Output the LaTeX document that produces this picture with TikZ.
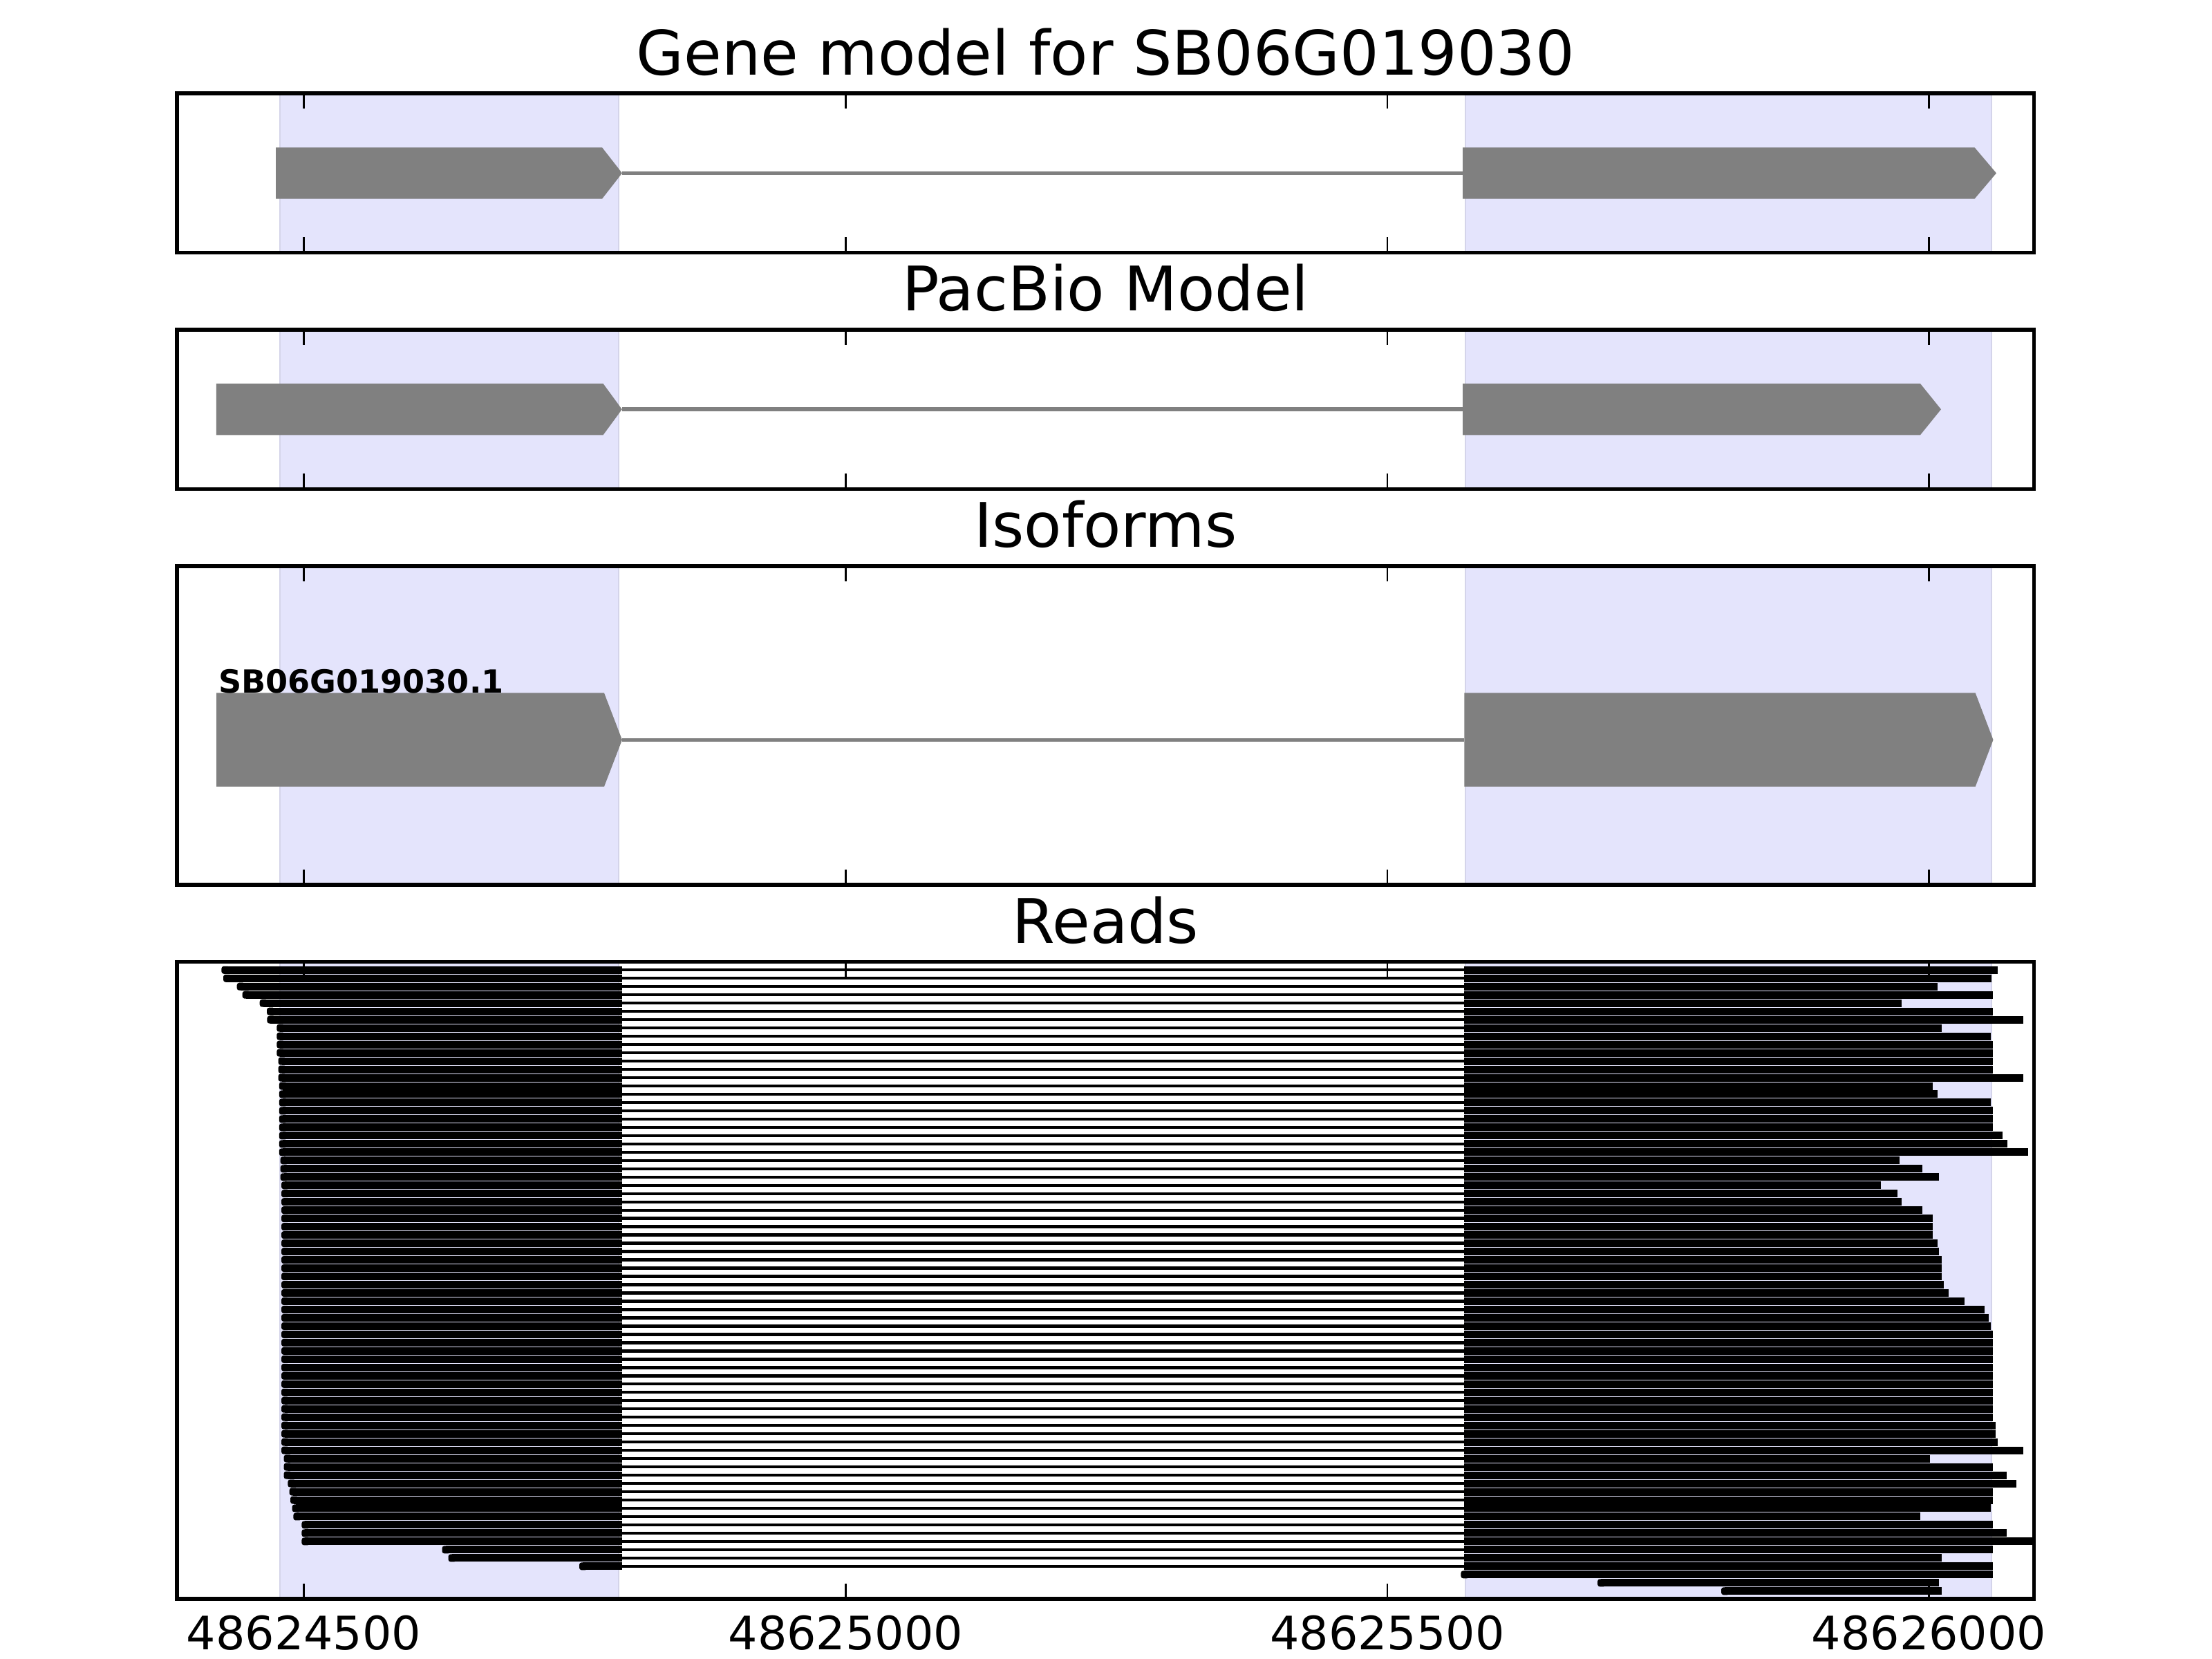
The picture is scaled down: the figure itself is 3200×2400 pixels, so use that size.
\documentclass[tikz,border=0pt]{standalone}
\usepackage{fontspec}
\setmainfont{DejaVu Sans}
\begin{document}
\begin{tikzpicture}[x=0.18bp,y=-0.18bp,
  band/.style={fill={rgb,255:red,228;green,228;blue,252},draw={rgb,255:red,212;green,212;blue,234},line width=0.3bp},
  exon/.style={fill=gray},
  intron/.style={draw=gray,line width=1bp},
  frame/.style={draw=black,line width=1bp},
  tickmark/.style={draw=black,line width=0.5bp},
  ttl/.style={font=\fontsize{16bp}{19bp}\selectfont,anchor=base,inner sep=0},
  ticklbl/.style={font=\fontsize{12bp}{14bp}\selectfont,anchor=base,inner sep=0},
  isolbl/.style={font=\bfseries\fontsize{8.3bp}{10bp}\selectfont,anchor=base west,inner sep=0},
]
\useasboundingbox (0,0) rectangle (3200,2400);
% highlighted exon bands
\foreach \t/\b in {135/365.5,476.8/707.5,818.8/1279.8,1391.5/2313}{
  \path[band] (405,\t) rectangle (895,\b);
  \path[band] (2120,\t) rectangle (2881,\b);
}
% Panel 1: gene model
\draw[intron] (900,250.5) -- (2116,250.5);
\fill[exon] (399,213.3) -- (871,213.3) -- (900,250.5) -- (871,287.7) -- (399,287.7) -- cycle;
\fill[exon] (2116,213.3) -- (2856.5,213.3) -- (2888,250.5) -- (2856.5,287.7) -- (2116,287.7) -- cycle;
% Panel 2: PacBio model
\draw[intron] (900,592.2) -- (2116,592.2);
\fill[exon] (312.8,555) -- (872.6,555) -- (899.8,592.2) -- (872.6,629.3) -- (312.8,629.3) -- cycle;
\fill[exon] (2116,555) -- (2778,555) -- (2808,592.2) -- (2778,629.3) -- (2116,629.3) -- cycle;
% Panel 3: isoforms
\draw[intron] (900,1070.3) -- (2118.3,1070.3);
\fill[exon] (313.2,1002.5) -- (874,1002.5) -- (900,1070.3) -- (874,1138) -- (313.2,1138) -- cycle;
\fill[exon] (2118.3,1002.5) -- (2857.7,1002.5) -- (2883.5,1070.3) -- (2857.7,1138) -- (2118.3,1138) -- cycle;
\node[isolbl] (iso) at (315,1003) {SB06G019030.1};
% Panel 4: reads
\begin{scope}
\clip (256,1391.5) rectangle (2942.6,2313);
\foreach \r/\s/\e in {
 1/320.4/2890.2, 2/323/2880.8, 3/342.7/2802.8, 4/350.7/2882.6, 5/375.7/2750.6,
 6/386/2883.2, 7/386.4/2926.6, 8/400.3/2808.7, 9/400.3/2880.2, 10/400.3/2882.6,
 11/400.3/2883.2, 12/402.5/2882.6, 13/402.5/2882.6, 14/402.5/2926.6, 15/403.8/2796.3,
 16/403.8/2803.4, 17/403.8/2879.7, 18/403.8/2882.6, 19/403.8/2882.6, 20/403.8/2883.2,
 21/403.8/2897.3, 22/403.8/2904.3, 23/403.8/2933.6, 24/405.6/2747.6, 25/405.6/2780.5,
 26/405.6/2805.1, 27/407/2720.7, 28/407/2744.7, 29/407/2750.6, 30/407/2780.5,
 31/407/2796.3, 32/407/2796.3, 33/407/2796.3, 34/407/2803.4, 35/407/2805.1,
 36/407/2808.7, 37/407/2808.7, 38/407/2808.7, 39/407/2811.6, 40/407/2819.2,
 41/407/2841.5, 42/407/2871.4, 43/407/2877.3, 44/407/2880.2, 45/407/2882.6,
 46/407/2882.6, 47/407/2882.6, 48/407/2882.6, 49/407/2882.6, 50/407/2882.6,
 51/407/2882.6, 52/407/2882.6, 53/407/2883.2, 54/407/2883.2, 55/407/2883.2,
 56/407/2886.7, 57/407/2886.7, 58/407/2890.2, 59/407/2926.6, 60/410.5/2792.2,
 61/410.5/2883.2, 62/410.5/2902.5, 63/416.3/2916.6, 64/418.6/2882.6, 65/420/2882.6,
 66/422.6/2879.7, 67/424.4/2778.2, 68/436.4/2882.6, 69/436.4/2902.5, 70/436.4/2950,
 71/639.5/2883.2, 72/648.5/2808.7, 73/838/2882.6}{
  \pgfmathsetmacro\yc{1403.3+11.98*(\r-1)}
  \fill[rounded corners=0.6bp] (\s,\yc-5.5) rectangle (\s+12,\yc+5.5);
  \fill (\s+5,\yc-5.5) rectangle (900,\yc+5.5);
  \fill (899,\yc-2.2) rectangle (2119,\yc+2.2);
  \fill (2118,\yc-5.5) rectangle (\e,\yc+5.5);
}
\foreach \r/\s/\e in {74/2113.4/2882.6, 75/2311.1/2805.1, 76/2490/2808.7}{
  \pgfmathsetmacro\yc{1403.3+11.98*(\r-1)}
  \fill[rounded corners=0.6bp] (\s,\yc-5.5) rectangle (\s+12,\yc+5.5);
  \fill (\s+5,\yc-5.5) rectangle (\e,\yc+5.5);
}
\end{scope}
% frames and ticks
\foreach \t/\b in {135/365.5,476.8/707.5,818.8/1279.8,1391.5/2313}{
  \draw[frame] (256,\t) rectangle (2942.6,\b);
  \foreach \x in {439.5,1223.3,2007,2790.5}{
    \draw[tickmark] (\x,\t) -- (\x,\t+22);
    \draw[tickmark] (\x,\b) -- (\x,\b-22);
  }
}
% titles
\node[ttl] (t1) at (1599.3,108.3) {Gene model for SB06G019030};
\node[ttl] (t2) at (1599.3,450) {PacBio Model};
\node[ttl] (t3) at (1599.3,792) {Isoforms};
\node[ttl] (t4) at (1599.3,1364.5) {Reads};
% tick labels
\node[ticklbl] (x1) at (439.5,2387) {48624500};
\node[ticklbl] (x2) at (1223.3,2387) {48625000};
\node[ticklbl] (x3) at (2007,2387) {48625500};
\node[ticklbl] (x4) at (2790.5,2387) {48626000};
\end{tikzpicture}
\end{document}
